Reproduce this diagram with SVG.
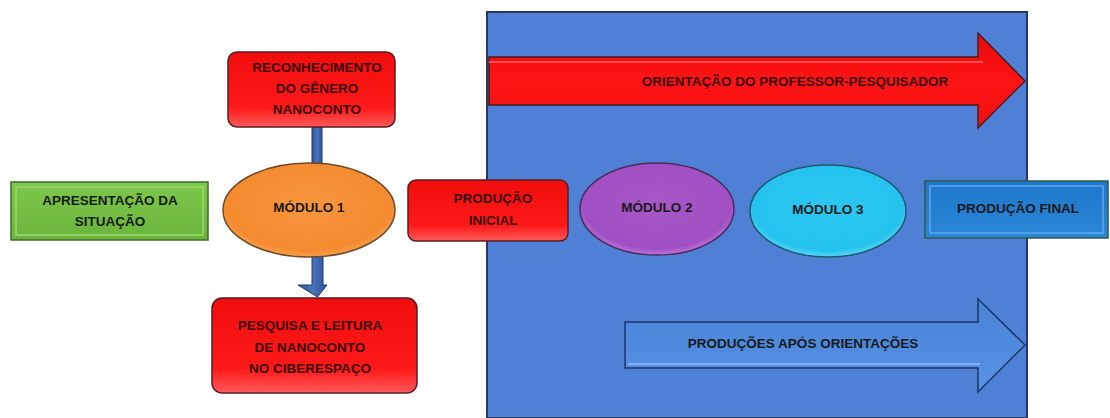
<svg xmlns="http://www.w3.org/2000/svg" width="1110" height="418" viewBox="0 0 1110 418">
<defs>
<linearGradient id="gRed" x1="0" y1="0" x2="0" y2="1">
<stop offset="0" stop-color="#f20d0d"/><stop offset="0.75" stop-color="#ff1a1a"/><stop offset="1" stop-color="#ff5a5a"/>
</linearGradient>
<linearGradient id="gGreen" x1="0" y1="0" x2="0" y2="1">
<stop offset="0" stop-color="#7cc84a"/><stop offset="1" stop-color="#6ab43c"/>
</linearGradient>
<linearGradient id="gBlueBox" x1="0" y1="0" x2="0" y2="1">
<stop offset="0" stop-color="#1e78cc"/><stop offset="1" stop-color="#2a86d6"/>
</linearGradient>
<radialGradient id="gOrange" cx="0.5" cy="0.45" r="0.6">
<stop offset="0" stop-color="#f7963e"/><stop offset="0.8" stop-color="#f58a30"/><stop offset="1" stop-color="#f9b060"/>
</radialGradient>
<radialGradient id="gPurple" cx="0.5" cy="0.45" r="0.6">
<stop offset="0" stop-color="#a857c6"/><stop offset="0.8" stop-color="#a050c2"/><stop offset="1" stop-color="#d38ae8"/>
</radialGradient>
<radialGradient id="gCyan" cx="0.5" cy="0.45" r="0.6">
<stop offset="0" stop-color="#2cc8f2"/><stop offset="0.8" stop-color="#25c2ee"/><stop offset="1" stop-color="#7fe2fa"/>
</radialGradient>
<linearGradient id="gRedArrow" x1="0" y1="0" x2="0" y2="1">
<stop offset="0" stop-color="#e60a0a"/><stop offset="0.5" stop-color="#ff1414"/><stop offset="1" stop-color="#f01010"/>
</linearGradient>
<linearGradient id="gBlueArrow" x1="0" y1="0" x2="0" y2="1">
<stop offset="0" stop-color="#4a84d6"/><stop offset="0.5" stop-color="#508ade"/><stop offset="1" stop-color="#5a94e4"/>
</linearGradient>
<linearGradient id="gStem" x1="0" y1="0" x2="1" y2="0">
<stop offset="0" stop-color="#2f5496"/><stop offset="0.5" stop-color="#4a72c0"/><stop offset="1" stop-color="#2f5496"/>
</linearGradient>
</defs>
<style>
.t{font-family:"Liberation Sans",Arial,sans-serif;font-weight:bold;font-size:13.5px;fill:#1a1a1a;text-anchor:middle}
.tr{fill:#3a0a0a}
.redbox{fill:url(#gRed);stroke:#5a1c24;stroke-width:1.5}
.ell{stroke-width:1.5}
.stem{fill:url(#gStem);stroke:#1f3a6e;stroke-width:1}
</style>
<rect width="1110" height="418" fill="#ffffff"/>

<g id="area">
<rect x="487" y="12" width="540" height="406" fill="#4f80d6" stroke="#26385e" stroke-width="2"/>
</g>

<g id="connectors">
<rect class="stem" x="312" y="127" width="10" height="37"/>
<path class="stem" d="M312,256 L323,256 L323,285 L327,285 L317.5,297 L298,285 L312,285 Z"/>
</g>

<g id="orientacao">
<path d="M489,57 L978,57 L978,33 L1025,81 L978,128 L978,105 L489,105 Z" fill="url(#gRedArrow)" stroke="#4a1a1a" stroke-width="1.5"/>
<path d="M489,62 L983,62" stroke="#ff5050" stroke-width="2" fill="none"/>
<text class="t tr" x="795" y="86">ORIENTAÇÃO DO PROFESSOR-PESQUISADOR</text>
</g>

<g id="producoes">
<path d="M625,322 L978,322 L978,299 L1025,345 L978,392 L978,368 L625,368 Z" fill="url(#gBlueArrow)" stroke="#1e3566" stroke-width="1.5"/>
<path d="M628,364 L980,364" stroke="#7fb0f0" stroke-width="2" fill="none"/>
<text class="t" x="803" y="348">PRODUÇÕES APÓS ORIENTAÇÕES</text>
</g>

<g id="apresentacao">
<rect x="11" y="182" width="197" height="58" fill="url(#gGreen)" stroke="#3e6a2a" stroke-width="1.5"/>
<rect x="16" y="187" width="187" height="48" fill="none" stroke="#98d86a" stroke-width="2" opacity="0.8"/>
<text class="t" x="110" y="205">APRESENTAÇÃO DA</text>
<text class="t" x="110" y="226">SITUAÇÃO</text>
</g>

<g id="reconhecimento">
<rect class="redbox" x="228" y="52" width="167" height="75" rx="9"/>
<text class="t tr" x="317" y="72">RECONHECIMENTO</text>
<text class="t tr" x="317" y="93">DO GÊNERO</text>
<text class="t tr" x="317" y="114">NANOCONTO</text>
</g>

<g id="modulo1">
<ellipse class="ell" cx="309" cy="210" rx="86" ry="47" fill="url(#gOrange)" stroke="#6e4a2a"/>
<text class="t" x="309" y="212">MÓDULO 1</text>
</g>

<g id="pesquisa">
<rect class="redbox" x="212" y="298" width="205" height="95" rx="10"/>
<text class="t tr" x="310" y="330">PESQUISA E LEITURA</text>
<text class="t tr" x="310" y="352">DE NANOCONTO</text>
<text class="t tr" x="310" y="373">NO CIBERESPAÇO</text>
</g>

<g id="producaoInicial">
<rect class="redbox" x="408" y="180" width="160" height="61" rx="8"/>
<text class="t tr" x="493" y="203">PRODUÇÃO</text>
<text class="t tr" x="493" y="225">INICIAL</text>
</g>

<g id="modulo2">
<ellipse class="ell" cx="657" cy="209" rx="77" ry="46" fill="url(#gPurple)" stroke="#4a2a5a"/>
<text class="t" x="657" y="212">MÓDULO 2</text>
</g>

<g id="modulo3">
<ellipse class="ell" cx="828" cy="211" rx="78" ry="46" fill="url(#gCyan)" stroke="#1e5a6e"/>
<text class="t" x="828" y="214">MÓDULO 3</text>
</g>

<g id="producaoFinal">
<rect x="925" y="181" width="183" height="57" fill="url(#gBlueBox)" stroke="#2f5a4a" stroke-width="1.5"/>
<rect x="930" y="186" width="173" height="47" fill="none" stroke="#5aa6ea" stroke-width="2" opacity="0.8"/>
<text class="t" x="1018" y="213">PRODUÇÃO FINAL</text>
</g>
</svg>
